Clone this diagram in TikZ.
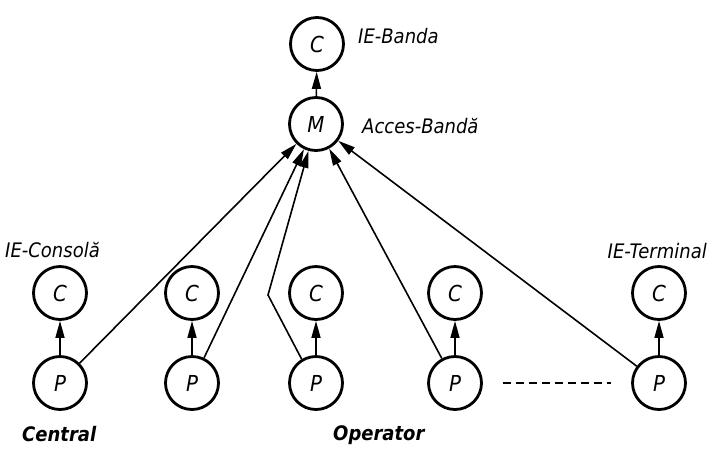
\documentclass[tikz,border=0pt]{standalone}
\usepackage{fontspec}
\setmainfont[FakeStretch=0.9]{DejaVu Sans}
\usetikzlibrary{arrows.meta}
\begin{document}
\begin{tikzpicture}[x=1pt,y=-1pt,
  circ/.style={circle,draw,line width=2.8pt,minimum size=53pt,inner sep=0pt,font=\itshape\fontsize{22}{22}\selectfont},
  conn/.style={line width=1.6pt,-{Triangle[length=17pt,width=9pt]}},
  lab/.style={font=\itshape\fontsize{20}{20}\selectfont,inner sep=0pt,anchor=base west},
  blab/.style={font=\bfseries\itshape\fontsize{20}{20}\selectfont,inner sep=0pt,anchor=base west}]
\useasboundingbox (0,0) rectangle (709,448);
\node[circ] (C0) at (317,44) {C};
\node[circ] (M) at (316,124) {M};
\foreach \i/\x in {1/60,2/192,3/316,4/455,5/659}{
  \node[circ] (C\i) at (\x,293) {C};
  \node[circ] (P\i) at (\x,383) {P};
  \draw[conn] (P\i) -- (C\i);
}
\draw[conn] (M) -- (C0);
\draw[conn] (P1) -- (M);
\draw[conn] (P2) -- (M);
\coordinate (k3) at (268,295);
\draw[conn] (P3.121) -- (k3) -- (M);
\draw[conn] (P4) -- (M);
\draw[conn] (P5) -- (M);
\draw[line width=2.2pt,dash pattern=on 8pt off 5pt] ([xshift=20pt]P4.east) -- ([xshift=-20pt]P5.west);
\node[lab] (l0) at (358,43) {IE-Banda};
\node[lab] (lM) at (362,133) {Acces-Bandă};
\node[lab] (l1) at (5,257) {IE-Consolă};
\node[lab,anchor=base east] (l5) at (707,258) {IE-Terminal};
\node[blab] (l6) at (22,441) {Central};
\node[blab] (l7) at (333,440) {Operator};
\end{tikzpicture}
\end{document}
